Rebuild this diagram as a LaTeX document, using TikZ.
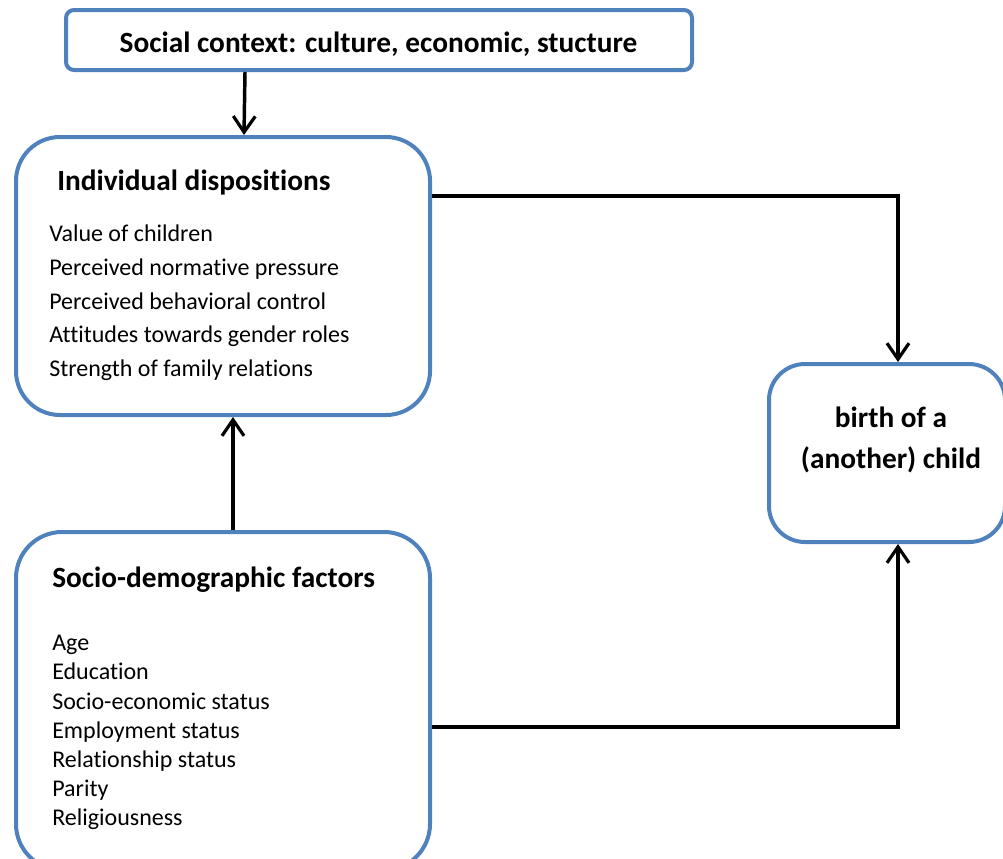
\documentclass[tikz,border=0pt]{standalone}
\usepackage{fontspec}
\setmainfont{Carlito}[Ligatures=NoCommon]
\usetikzlibrary{arrows.meta}
\definecolor{boxblue}{HTML}{4F81BD}
\begin{document}
\begin{tikzpicture}[x=0.75pt,y=-0.75pt,
  box/.style={draw=boxblue,line width=3pt,fill=white,inner sep=0pt},
  arr/.style={draw=black,line width=2.6pt,-{Straight Barb[length=12pt,width=16.5pt,line width=2.4pt]}},
  txt/.style={inner sep=0pt,anchor=base west,font=\fontsize{18pt}{22pt}\selectfont},
  head/.style={inner sep=0pt,anchor=base west,font=\fontsize{22pt}{26pt}\selectfont\bfseries},
  ctr/.style={inner sep=0pt,anchor=base,font=\fontsize{22pt}{26pt}\selectfont\bfseries}]
\useasboundingbox (0,0) rectangle (1003,858);
% boxes
\node[box,rounded corners=6pt,minimum width=469.5pt,minimum height=45pt] (top) at (379,40) {};
\node[box,rounded corners=33pt,minimum width=310.5pt,minimum height=208.5pt] (ind) at (223,276) {};
\node[box,rounded corners=34.5pt,minimum width=310.5pt,minimum height=253.5pt] (soc) at (223,701) {};
\node[box,rounded corners=27pt,minimum width=177pt,minimum height=133.5pt] (birth) at (887,453) {};
% texts
\node[ctr] (ttop) at (378.5,52) {Social context: culture, economic, stucture};
\node[head] (tind) at (57,190) {Individual dispositions};
\node[txt] (i1) at (49,241.7) {Value of children};
\node[txt] (i2) at (49,275.4) {Perceived normative pressure};
\node[txt] (i3) at (49,309) {Perceived behavioral control};
\node[txt] (i4) at (49,342.5) {Attitudes towards gender roles};
\node[txt] (i5) at (49,376) {Strength of family relations};
\node[head] (tsoc) at (52,587) {Socio-demographic factors};
\node[txt] (s1) at (52,650) {Age};
\node[txt] (s2) at (52,679.5) {Education};
\node[txt] (s3) at (52,709) {Socio-economic status};
\node[txt] (s4) at (52,738) {Employment status};
\node[txt] (s5) at (52,767.5) {Relationship status};
\node[txt] (s6) at (52,796.5) {Parity};
\node[txt] (s7) at (52,825.5) {Religiousness};
\node[ctr] (b1) at (891,427) {birth of a};
\node[ctr] (b2) at (891,468) {(another) child};
% connectors
\draw[arr] ([xshift=135.75pt]top.south west) -- ([xshift=172.5pt]ind.north west);
\draw[arr] ([yshift=-45.75pt]ind.north east) -| ([xshift=8.25pt]birth.north);
\draw[arr] ([yshift=-147.75pt]soc.north east) -| ([xshift=8.25pt]birth.south);
\draw[arr] ([xshift=7.5pt]soc.north) -- ([xshift=7.5pt]ind.south);
\end{tikzpicture}
\end{document}
